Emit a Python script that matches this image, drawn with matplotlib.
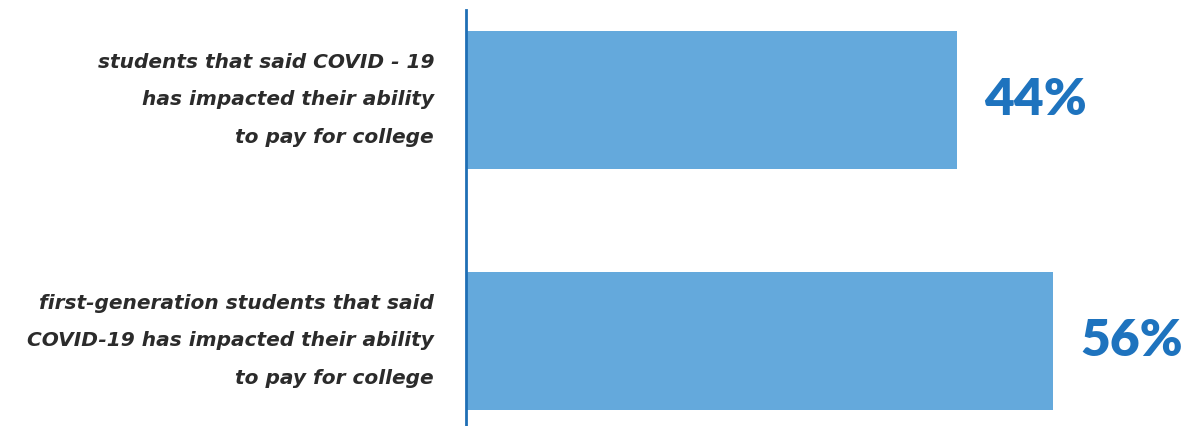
import numpy as np
import matplotlib.pyplot as plt

plt.rcParams['font.family'] = ['DejaVu Sans']

labels = ["students that said COVID - 19\nhas impacted their ability\nto pay for college",
          "first-generation students that said\nCOVID-19 has impacted their ability\nto pay for college"]
values = [44, 56]
pct_labels = ["44%", "56%"]

bar_color = "#64a9dc"
spine_color = "#1f6fb5"
pct_color = "#1e73be"
text_color = "#2b2b2b"

fig = plt.figure(figsize=(11.83, 4.26), dpi=100)
ax = fig.add_axes([466 / 1183, 0, 1 - 466 / 1183, 416 / 426])

base = -17.4  # left edge of the bars sits on the axis line
y = np.array([1, 0])
ax.barh(y, np.array(values) - base, left=base, height=0.573, color=bar_color)

for yi, v, t in zip(y, values, pct_labels):
    ax.text(v + 3.4, yi, t, va='center', ha='left', fontsize=37, fontweight='heavy',
            color=pct_color, family=['Lato'])

ax.set_xlim(base, 72.25)
ax.set_ylim(-0.353, 1.373)
ax.set_yticks(y)
ax.set_yticklabels(labels, fontsize=14.5, fontstyle='italic', fontweight='bold',
                   color=text_color, linespacing=2.25, va='center')
ax.tick_params(axis='y', length=0, pad=23)
ax.set_xticks([])

for s in ['top', 'right', 'bottom']:
    ax.spines[s].set_visible(False)
ax.spines['left'].set_color(spine_color)
ax.spines['left'].set_linewidth(2)

fig.savefig("out.png", dpi=100)
